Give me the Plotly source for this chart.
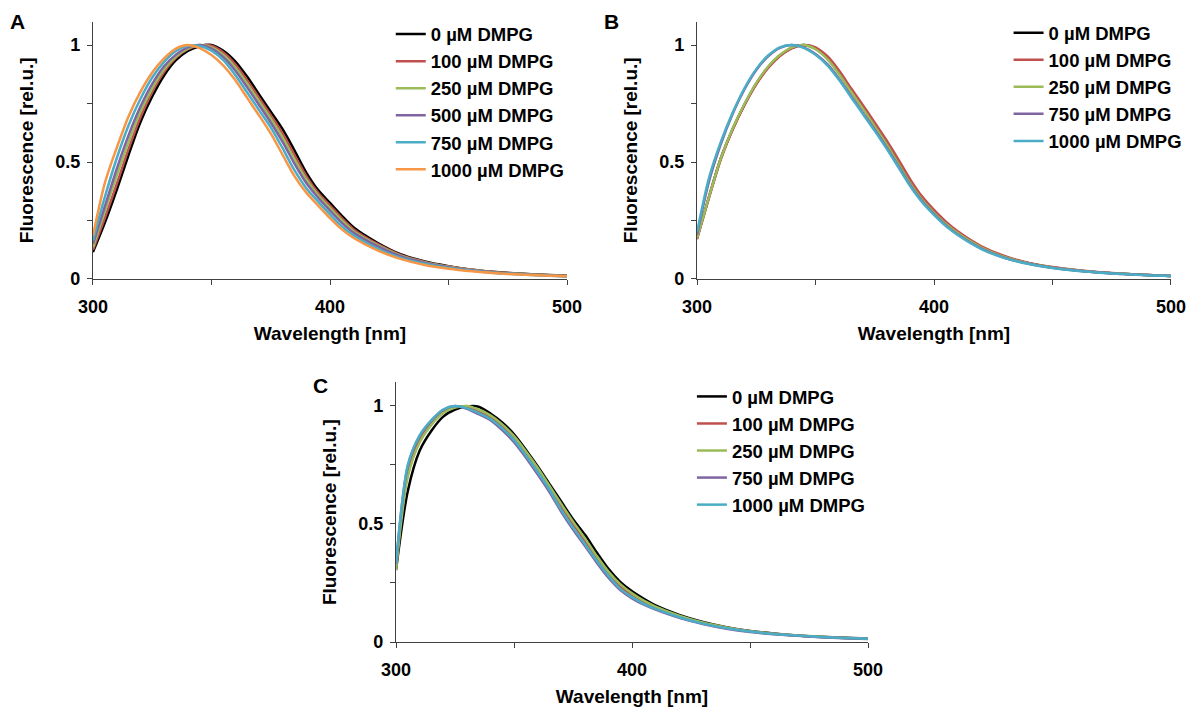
import plotly.graph_objects as go

# wavelengths (nm)
wl = [300, 305, 310, 315, 320, 325, 330, 335, 340, 345, 350, 355, 360, 365, 370, 375,
      380, 385, 390, 395, 400, 405, 410, 420, 430, 440, 450, 460, 470, 480, 490, 500]

# panel A
a_0 = [0.115, 0.24, 0.38, 0.53, 0.67, 0.78, 0.87, 0.935, 0.975, 0.995, 1.0, 0.975, 0.93, 0.865, 0.79, 0.715,
       0.64, 0.55, 0.455, 0.38, 0.325, 0.27, 0.22, 0.155, 0.105, 0.075, 0.055, 0.04, 0.03, 0.023, 0.018, 0.014]
a_100 = [0.125, 0.26, 0.405, 0.555, 0.69, 0.80, 0.885, 0.945, 0.982, 0.998, 0.997, 0.968, 0.918, 0.85, 0.775, 0.70,
         0.622, 0.53, 0.44, 0.368, 0.314, 0.26, 0.212, 0.15, 0.102, 0.073, 0.053, 0.039, 0.029, 0.022, 0.017, 0.013]
a_250 = [0.135, 0.29, 0.44, 0.585, 0.715, 0.815, 0.896, 0.951, 0.985, 1.0, 0.99, 0.957, 0.904, 0.835, 0.76, 0.685,
         0.604, 0.512, 0.425, 0.358, 0.303, 0.25, 0.203, 0.145, 0.099, 0.071, 0.052, 0.038, 0.028, 0.022, 0.017, 0.013]
a_500 = [0.15, 0.31, 0.47, 0.614, 0.736, 0.834, 0.909, 0.959, 0.99, 1.0, 0.985, 0.948, 0.891, 0.82, 0.745, 0.669,
         0.586, 0.493, 0.41, 0.347, 0.292, 0.24, 0.197, 0.14, 0.096, 0.069, 0.05, 0.037, 0.027, 0.021, 0.016, 0.012]
a_750 = [0.165, 0.35, 0.515, 0.656, 0.769, 0.861, 0.928, 0.975, 0.997, 0.996, 0.976, 0.935, 0.872, 0.798, 0.723, 0.648,
         0.559, 0.465, 0.388, 0.331, 0.276, 0.225, 0.186, 0.13, 0.09, 0.065, 0.047, 0.035, 0.026, 0.02, 0.015, 0.011]
a_1000 = [0.185, 0.41, 0.56, 0.695, 0.80, 0.883, 0.943, 0.985, 1.0, 0.987, 0.957, 0.912, 0.85, 0.775, 0.70, 0.622,
          0.531, 0.44, 0.369, 0.314, 0.26, 0.212, 0.175, 0.122, 0.085, 0.06, 0.044, 0.033, 0.025, 0.019, 0.015, 0.012]

# panel B
b_0 = [0.175, 0.35, 0.515, 0.64, 0.745, 0.835, 0.905, 0.955, 0.988, 1.0, 0.985, 0.943, 0.878, 0.803, 0.732, 0.657,
       0.58, 0.497, 0.412, 0.342, 0.287, 0.238, 0.198, 0.136, 0.094, 0.067, 0.049, 0.037, 0.028, 0.022, 0.017, 0.013]
b_100 = [0.17, 0.345, 0.51, 0.638, 0.743, 0.832, 0.902, 0.953, 0.986, 1.0, 0.99, 0.952, 0.89, 0.815, 0.743, 0.668,
         0.592, 0.51, 0.425, 0.352, 0.295, 0.245, 0.204, 0.14, 0.097, 0.069, 0.051, 0.038, 0.029, 0.022, 0.017, 0.013]
b_250 = [0.175, 0.35, 0.515, 0.643, 0.748, 0.838, 0.908, 0.958, 0.99, 1.0, 0.982, 0.94, 0.875, 0.80, 0.728, 0.652,
         0.575, 0.492, 0.408, 0.338, 0.283, 0.235, 0.196, 0.134, 0.093, 0.066, 0.049, 0.037, 0.028, 0.022, 0.017, 0.013]
b_750 = [0.19, 0.415, 0.575, 0.705, 0.81, 0.893, 0.952, 0.988, 1.0, 0.99, 0.962, 0.918, 0.855, 0.782, 0.71, 0.638,
         0.562, 0.482, 0.40, 0.332, 0.277, 0.229, 0.19, 0.13, 0.09, 0.065, 0.048, 0.036, 0.028, 0.021, 0.017, 0.013]
b_1000 = [0.2, 0.43, 0.585, 0.71, 0.815, 0.897, 0.955, 0.99, 1.0, 0.988, 0.958, 0.913, 0.85, 0.777, 0.705, 0.633,
          0.557, 0.477, 0.396, 0.328, 0.274, 0.226, 0.188, 0.128, 0.089, 0.064, 0.047, 0.035, 0.027, 0.021, 0.016, 0.013]

# panel C
c_0 = [0.305, 0.64, 0.81, 0.895, 0.955, 0.985, 0.998, 0.997, 0.968, 0.93, 0.88, 0.815, 0.745, 0.67, 0.595, 0.52,
       0.455, 0.38, 0.31, 0.255, 0.215, 0.183, 0.155, 0.115, 0.085, 0.063, 0.047, 0.036, 0.028, 0.022, 0.018, 0.015]
c_100 = [0.32, 0.72, 0.86, 0.93, 0.975, 0.995, 0.997, 0.975, 0.952, 0.915, 0.865, 0.80, 0.73, 0.655, 0.575, 0.50,
         0.43, 0.355, 0.29, 0.235, 0.198, 0.168, 0.145, 0.108, 0.08, 0.06, 0.045, 0.035, 0.027, 0.021, 0.017, 0.014]
c_250 = [0.305, 0.70, 0.845, 0.92, 0.97, 0.993, 1.0, 0.985, 0.96, 0.922, 0.872, 0.808, 0.738, 0.662, 0.585, 0.51,
         0.44, 0.365, 0.298, 0.245, 0.206, 0.175, 0.15, 0.112, 0.083, 0.062, 0.046, 0.035, 0.028, 0.022, 0.017, 0.014]
c_750 = [0.33, 0.745, 0.872, 0.938, 0.984, 1.0, 0.988, 0.965, 0.94, 0.898, 0.847, 0.782, 0.71, 0.635, 0.552, 0.477,
         0.408, 0.337, 0.272, 0.22, 0.185, 0.158, 0.137, 0.102, 0.076, 0.056, 0.042, 0.033, 0.026, 0.02, 0.016, 0.013]
c_1000 = [0.333, 0.75, 0.875, 0.94, 0.985, 1.0, 0.99, 0.97, 0.945, 0.905, 0.855, 0.79, 0.72, 0.645, 0.56, 0.485,
          0.415, 0.345, 0.28, 0.225, 0.19, 0.162, 0.14, 0.105, 0.078, 0.058, 0.044, 0.034, 0.027, 0.021, 0.017, 0.014]

labels_a = ["0 µM DMPG", "100 µM DMPG", "250 µM DMPG", "500 µM DMPG", "750 µM DMPG", "1000 µM DMPG"]
labels_bc = ["0 µM DMPG", "100 µM DMPG", "250 µM DMPG", "750 µM DMPG", "1000 µM DMPG"]

colors_a = ["#000000", "#C0504D", "#9BBB59", "#8064A2", "#4BACC6", "#F79646"]
colors_bc = ["#000000", "#C0504D", "#9BBB59", "#8064A2", "#4BACC6"]

FONT = "Arial, Liberation Sans, sans-serif"

fig = go.Figure()

panels = [
    ("x", "y", "legend", [a_0, a_100, a_250, a_500, a_750, a_1000], labels_a, colors_a),
    ("x2", "y2", "legend2", [b_0, b_100, b_250, b_750, b_1000], labels_bc, colors_bc),
    ("x3", "y3", "legend3", [c_0, c_100, c_250, c_750, c_1000], labels_bc, colors_bc),
]
for xa, ya, lg, series, labels, colors in panels:
    for vals, name, col in zip(series, labels, colors):
        fig.add_trace(go.Scatter(x=wl, y=vals, name=name, mode="lines", xaxis=xa, yaxis=ya,
                                 legend=lg, legendgroup=lg + name,
                                 line=dict(color=col, width=2.5, shape="spline", smoothing=0.8)))


def xax(dom, anchor):
    return dict(domain=dom, anchor=anchor, range=[300, 500], showgrid=False, zeroline=False,
                automargin=False, showline=True, linecolor="#404040", linewidth=1.3,
                tickvals=[300, 350, 400, 450, 500], ticktext=["300", "", "400", "", "500"],
                ticks="outside", ticklen=5, tickcolor="#404040", ticklabelstandoff=6,
                tickfont=dict(family=FONT, size=18, color="black", weight="bold"),
                title=dict(text="<b>Wavelength [nm]</b>", standoff=10,
                           font=dict(family=FONT, size=19, color="black")))


def yax(dom, anchor):
    return dict(domain=dom, anchor=anchor, range=[0, 1.1], showgrid=False, zeroline=False,
                automargin=False, showline=True, linecolor="#404040", linewidth=1.3,
                tickvals=[0, 0.25, 0.5, 0.75, 1], ticktext=["0", "", "0.5", "", "1"],
                ticks="outside", ticklen=5, tickcolor="#404040", ticklabelstandoff=3,
                tickfont=dict(family=FONT, size=18, color="black", weight="bold"),
                title=dict(text="<b>Fluorescence [rel.u.]</b>", standoff=16,
                           font=dict(family=FONT, size=19, color="black")))


def leg(x, y):
    return dict(x=x, y=y, xanchor="left", yanchor="top", bgcolor="rgba(0,0,0,0)",
                tracegroupgap=0, font=dict(family=FONT, size=18.5, color="black", weight="bold"))


top = [0.6065, 0.9695]
bot = [0.0945, 0.4607]

fig.update_layout(
    width=1195, height=709,
    margin=dict(l=0, r=0, t=0, b=0),
    paper_bgcolor="white", plot_bgcolor="white",
    xaxis=xax([0.0778, 0.4745], "y"),
    yaxis=yax(top, "x"),
    xaxis2=xax([0.5833, 0.9799], "y2"),
    yaxis2=yax(top, "x2"),
    xaxis3=xax([0.3314, 0.7264], "y3"),
    yaxis3=yax(bot, "x3"),
    legend=leg(0.327, 0.978),
    legend2=leg(0.844, 0.98),
    legend3=leg(0.579, 0.467),
)

for letter, x, y in [("A", 17, 22), ("B", 611, 22), ("C", 320, 385)]:
    fig.add_annotation(text="<b>" + letter + "</b>", x=x / 1195, y=1 - y / 709, xref="paper", yref="paper",
                       xanchor="center", yanchor="middle", showarrow=False,
                       font=dict(family=FONT, size=21, color="black"))

# drop the default page margin so the 1195x709 figure fills the window
fig.write_html("out.html", config={"displayModeBar": False},
               post_script="document.body.style.margin='0';")
